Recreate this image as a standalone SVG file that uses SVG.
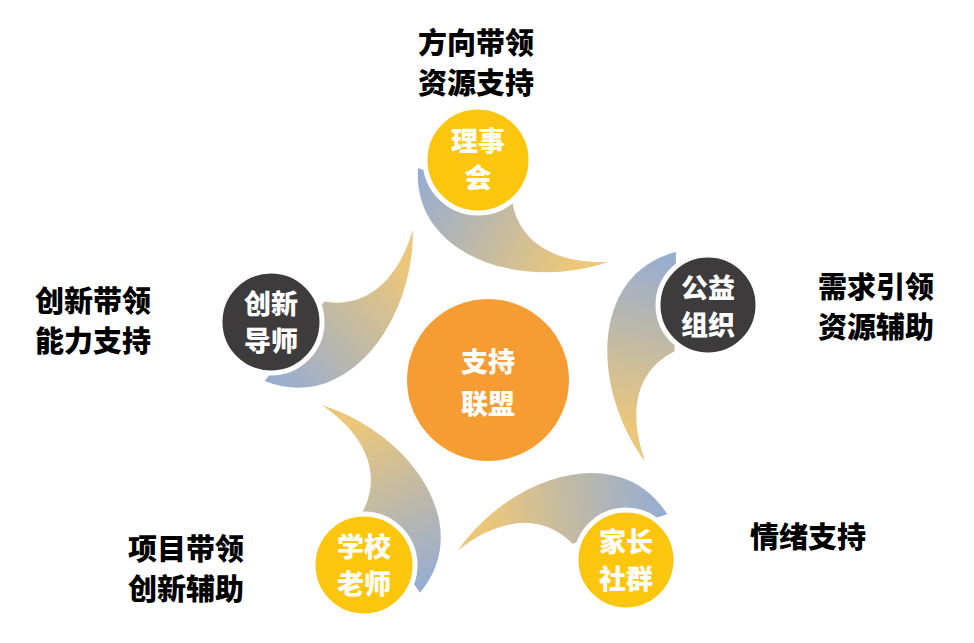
<svg xmlns="http://www.w3.org/2000/svg" width="974" height="643" viewBox="0 0 974 643">
<defs>
<linearGradient id="g" x1="0" y1="0" x2="1" y2="0.3">
<stop offset="0" stop-color="#94acd4"/><stop offset="1" stop-color="#ecc77a"/>
</linearGradient>
<path id="sw" d="M418,168 C412,255 520,292 608,262 C555,264 518,242 512,200 Z" fill="url(#g)"/>
<style>
.c{stroke:#fff;stroke-width:5}
.y{fill:#fcc60f}.d{fill:#3d3b3c}
.w{font-family:"Noto Sans CJK SC",sans-serif;font-weight:900;font-size:27px;fill:#fff;text-anchor:middle}
.b{font-family:"Noto Sans CJK SC",sans-serif;font-weight:900;font-size:29px;fill:#000}
</style>
</defs>
<rect width="974" height="643" fill="#fff"/>
<g id="connectors">
<use href="#sw"/>
<use href="#sw" transform="translate(8,4) rotate(72,488,380)"/>
<use href="#sw" transform="translate(-2,4) rotate(144,488,380)"/>
<use href="#sw" transform="rotate(216,488,380)"/>
<use href="#sw" transform="rotate(288,488,380)"/>
</g>
<g id="center"><circle cx="488" cy="380" r="81" fill="#f59c32"/>
<text class="w" x="488" y="372" font-size="32">支持</text><text class="w" x="488" y="414" font-size="32">联盟</text></g>
<g id="n1"><circle class="c y" cx="478" cy="160" r="53"/><text class="w" x="478" y="151">理事</text><text class="w" x="478" y="188">会</text></g>
<g id="n2"><circle class="c d" cx="708" cy="305" r="50"/><text class="w" x="708" y="298">公益</text><text class="w" x="708" y="335">组织</text></g>
<g id="n3"><circle class="c y" cx="626" cy="560" r="50"/><text class="w" x="626" y="552">家长</text><text class="w" x="626" y="589">社群</text></g>
<g id="n4"><circle class="c y" cx="364" cy="565" r="51"/><text class="w" x="364" y="557">学校</text><text class="w" x="364" y="594">老师</text></g>
<g id="n5"><circle class="c d" cx="271" cy="322" r="51"/><text class="w" x="271" y="314">创新</text><text class="w" x="271" y="351">导师</text></g>
<g id="labels">
<text class="b" x="418" y="54">方向带领</text><text class="b" x="418" y="94">资源支持</text>
<text class="b" x="818" y="298">需求引领</text><text class="b" x="818" y="338">资源辅助</text>
<text class="b" x="750" y="548">情绪支持</text>
<text class="b" x="128" y="560">项目带领</text><text class="b" x="128" y="600">创新辅助</text>
<text class="b" x="35" y="312">创新带领</text><text class="b" x="35" y="352">能力支持</text>
</g>
</svg>
